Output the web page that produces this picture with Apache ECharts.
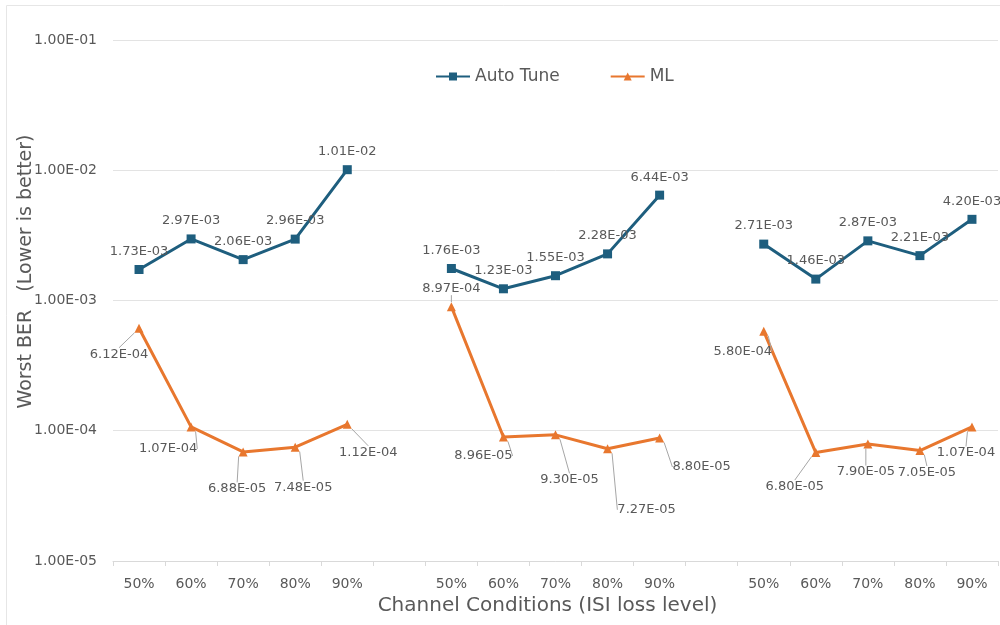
<!DOCTYPE html>
<html>
<head>
<meta charset="utf-8">
<style>
  html, body { margin: 0; padding: 0; background: #fff; }
  #chart { width: 1000px; height: 625px; }
</style>
<script src="https://cdn.jsdelivr.net/npm/echarts@6/dist/echarts.min.js"></script>
</head>
<body>
<div id="chart"></div>
<script>
// Channel conditions: three sweeps of ISI loss, separated by an empty slot
const categories = ['50%', '60%', '70%', '80%', '90%', '',
                    '50%', '60%', '70%', '80%', '90%', '',
                    '50%', '60%', '70%', '80%', '90%'];

// Worst-case bit error rate per condition
const autoTune = [1.73e-3, 2.97e-3, 2.06e-3, 2.96e-3, 1.01e-2, null,
                  1.76e-3, 1.23e-3, 1.55e-3, 2.28e-3, 6.44e-3, null,
                  2.71e-3, 1.46e-3, 2.87e-3, 2.21e-3, 4.20e-3];
const ml = [6.12e-4, 1.07e-4, 6.88e-5, 7.48e-5, 1.12e-4, null,
            8.97e-4, 8.96e-5, 9.30e-5, 7.27e-5, 8.80e-5, null,
            5.80e-4, 6.80e-5, 7.90e-5, 7.05e-5, 1.07e-4];

const yMin = 1e-5;
const yMax = 1e-1;

// Callout placement for the ML labels (pixel shift from each point)
const mlLabelShift = [[-20, 26], [-23, 22], [-6, 37], [8, 40], [21, 28], [0, 0],
                      [0, -18], [-20, 19], [14, 45], [39, 61], [42, 29], [0, 0],
                      [-21, 20], [-21, 34], [-2, 28], [7, 22], [-6, 26]];

const TEXT = '#595959';
const GRID = '#E3E3E3';
const FONT = 'DejaVu Sans';
const BLUE = '#1E5E7E';
const ORANGE = '#E8772E';

// 0.00173 -> "1.73E-03"
function sci(v) {
  const s = Number(v).toExponential(2).toUpperCase();
  const m = s.match(/^(-?[\d.]+)E([+-])(\d+)$/);
  if (!m) return s;
  const exp = m[3].length < 2 ? '0' + m[3] : m[3];
  return m[1] + 'E' + m[2] + exp;
}

const chart = echarts.init(document.getElementById('chart'));
chart.setOption({
  backgroundColor: '#fff',
  textStyle: { fontFamily: FONT, color: TEXT },
  animation: false,
  graphic: [{
    type: 'rect',
    shape: { x: 6.5, y: 5.5, width: 1000, height: 640 },
    style: { fill: 'none', stroke: '#E6E6E6', lineWidth: 1 },
    silent: true,
    z: -1
  }],
  grid: { left: 113, right: 2, top: 40, bottom: 64, containLabel: false, outerBoundsMode: 'none' },
  legend: {
    top: 63,
    left: 430,
    itemWidth: 34,
    itemHeight: 10,
    itemGap: 50,
    textStyle: { fontFamily: FONT, fontSize: 17, color: TEXT },
    data: ['Auto Tune', 'ML']
  },
  xAxis: {
    type: 'category',
    data: categories,
    boundaryGap: true,
    name: 'Channel Conditions (ISI loss level)',
    nameLocation: 'middle',
    nameGap: 35,
    nameMoveOverlap: false,
    nameTextStyle: { fontFamily: FONT, fontSize: 20, color: TEXT, padding: [0, 16, 0, 0] },
    axisLine: { lineStyle: { color: '#D9D9D9', width: 1 } },
    axisTick: { show: true, length: 5, lineStyle: { color: '#D9D9D9' } },
    axisLabel: { interval: 0, margin: 16, fontSize: 14, color: TEXT, fontFamily: FONT },
    splitLine: { show: false }
  },
  yAxis: {
    type: 'log',
    logBase: 10,
    min: yMin,
    max: yMax,
    name: 'Worst BER   (Lower is better)',
    nameLocation: 'middle',
    nameGap: 77,
    nameMoveOverlap: false,
    nameTextStyle: { fontFamily: FONT, fontSize: 19, color: TEXT, padding: [0, 0, 0, 58] },
    axisLine: { show: false },
    axisTick: { show: false },
    axisLabel: { formatter: sci, fontSize: 14, color: TEXT, fontFamily: FONT, margin: 16 },
    splitLine: { lineStyle: { color: GRID, width: 1 } },
    minorSplitLine: { show: false }
  },
  series: [
    {
      name: 'Auto Tune',
      type: 'line',
      data: autoTune,
      connectNulls: false,
      symbol: 'rect',
      symbolSize: 9,
      itemStyle: { color: BLUE },
      lineStyle: { color: BLUE, width: 3 },
      label: {
        show: true,
        position: 'top',
        distance: 7,
        formatter: p => sci(p.value),
        fontSize: 13,
        color: TEXT,
        fontFamily: FONT
      }
    },
    {
      name: 'ML',
      type: 'line',
      data: ml,
      connectNulls: false,
      symbol: 'triangle',
      symbolSize: 9,
      itemStyle: { color: ORANGE },
      lineStyle: { color: ORANGE, width: 3 },
      label: {
        show: true,
        position: 'inside',
        formatter: p => sci(p.value),
        fontSize: 13,
        color: TEXT,
        fontFamily: FONT
      },
      labelLine: { show: true, lineStyle: { color: '#A6A6A6', width: 1 } },
      labelLayout: function (params) {
        const s = mlLabelShift[params.dataIndex] || [0, 0];
        return { dx: s[0], dy: s[1] };
      }
    }
  ]
});
</script>
</body>
</html>
